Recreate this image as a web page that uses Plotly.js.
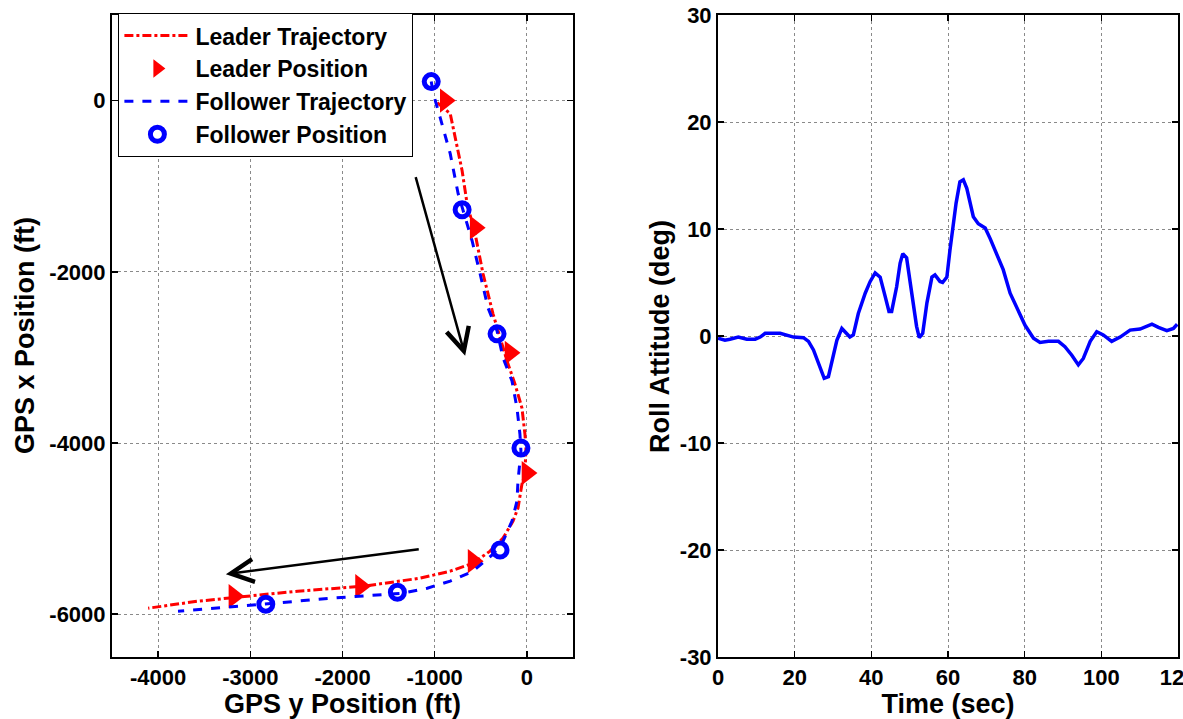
<!DOCTYPE html>
<html>
<head>
<meta charset="utf-8">
<script src="https://cdn.plot.ly/plotly-3.0.1.min.js"></script>
<style>html,body{margin:0;padding:0;background:#fff;}#chart{width:1183px;height:719px;}</style>
</head>
<body>
<div id="chart"></div>
<script>
// ---- Left panel: GPS trajectories (ft) ----
var leaderTrajY = [-973,-832,-703,-649,-562,-476,-368,-292,-216,-130,-54,-22,-11,-22,-54,-97,-151,-259,-400,-584,-832,-1157,-1373,-1773,-2486,-3027,-3568,-4108];
var leaderTrajX = [-23,-152,-819,-1205,-1556,-2023,-2491,-2772,-3041,-3310,-3591,-3895,-4058,-4363,-4480,-4760,-4912,-5111,-5263,-5404,-5497,-5579,-5614,-5673,-5731,-5789,-5848,-5930];

var leaderPosY = [-886,-562,-184,0,-584,-1805,-3178];
var leaderPosX = [0,-1485,-2947,-4351,-5380,-5673,-5789];

var followerTrajY = [-1038,-1016,-941,-832,-746,-692,-595,-508,-422,-324,-259,-162,-108,-76,-65,-97,-108,-162,-259,-368,-584,-832,-1081,-1341,-2130,-2854,-3395,-3784];
var followerTrajX = [222,82,-199,-620,-1088,-1287,-1637,-2023,-2421,-2690,-3006,-3275,-3591,-3895,-4094,-4444,-4678,-4912,-5146,-5298,-5497,-5614,-5696,-5754,-5813,-5883,-5930,-5965];

var followerPosY = [-1038,-703,-324,-65,-292,-1405,-2832];
var followerPosX = [222,-1275,-2725,-4058,-5251,-5743,-5883];

// direction arrows: [tailY, tailX, headY, headX]
var arrow1 = [-1211,-877,-670,-2982];
var arrow2 = [-1157,-5240,-3265,-5532];

// ---- Right panel: roll attitude ----
var timeSec = [0,1.8,3.1,5.3,7.5,9.7,11.0,12.3,16.2,17.9,19.7,22.3,23.6,24.9,26.2,27.7,28.8,30.1,31.0,32.3,33.6,34.4,35.3,36.6,38.4,39.7,41.0,42.3,43.6,44.6,45.3,46.6,47.5,48.2,49.2,50.5,51.8,52.5,53.4,54.5,55.8,56.6,57.9,58.6,59.7,60.5,61.2,62.1,63.1,64.0,64.9,65.7,66.6,67.9,69.7,71.0,72.7,74.4,76.2,78.4,80.1,82.3,84.0,86.2,88.8,90.5,92.3,94.0,95.3,97.1,98.8,100.5,102.7,104.9,107.5,110.1,113.2,114.9,117.1,118.8,119.8];
var rollDeg = [-0.2,-0.4,-0.3,-0.1,-0.3,-0.3,-0.1,0.25,0.25,0.1,-0.1,-0.16,-0.5,-1.3,-2.55,-3.95,-3.8,-1.9,-0.4,0.7,0.25,-0.1,0.1,2.1,4.0,5.1,5.9,5.5,3.7,2.3,2.3,4.6,6.8,7.7,7.3,4.3,0.9,-0.16,0.25,3.1,5.5,5.7,5.1,5.0,5.5,8.0,9.9,12.4,14.4,14.6,13.8,12.4,11.15,10.5,10.1,9.1,7.7,6.2,4.0,2.3,1.0,-0.2,-0.6,-0.5,-0.5,-1.0,-1.8,-2.7,-2.1,-0.5,0.4,0.1,-0.5,-0.1,0.55,0.65,1.1,0.8,0.5,0.7,1.1];

var xTicksLeft = [-4000,-3000,-2000,-1000,0];
var yTicksLeft = [-6000,-4000,-2000,0];
var xTicksRight = [0,20,40,60,80,100,120];
var yTicksRight = [-30,-20,-10,0,10,20,30];

var xTitleLeft = 'GPS y Position (ft)';
var yTitleLeft = 'GPS x Position (ft)';
var xTitleRight = 'Time (sec)';
var yTitleRight = 'Roll Attitude (deg)';

var FONT = 'Liberation Sans, Arial, sans-serif';

function bold(arr) { return arr.map(function (v) { return '<b>' + v + '</b>'; }); }

var traces = [
  {x: leaderTrajY, y: leaderTrajX, mode: 'lines', name: '<b>Leader Trajectory</b>',
   line: {color: '#ff0000', width: 3, dash: 'dashdot'}, xaxis: 'x', yaxis: 'y'},
  {x: leaderPosY, y: leaderPosX, mode: 'markers', name: '<b>Leader Position</b>',
   marker: {symbol: 'triangle-right', color: '#ff0000', size: 21}, xaxis: 'x', yaxis: 'y'},
  {x: followerTrajY, y: followerTrajX, mode: 'lines', name: '<b>Follower Trajectory</b>',
   line: {color: '#0000ff', width: 3, dash: 'dash'}, xaxis: 'x', yaxis: 'y'},
  {x: followerPosY, y: followerPosX, mode: 'markers', name: '<b>Follower Position</b>',
   marker: {symbol: 'circle-open', color: '#0000ff', size: 14, line: {width: 5, color: '#0000ff'}}, xaxis: 'x', yaxis: 'y'},
  {x: timeSec, y: rollDeg, mode: 'lines', name: 'Roll', showlegend: false,
   line: {color: '#0000ff', width: 3.5}, xaxis: 'x2', yaxis: 'y2'}
];

function axisBase(extra) {
  var a = {
    showline: true, linecolor: '#000', linewidth: 2, mirror: 'ticks',
    ticks: 'inside', ticklen: 6, tickwidth: 1.5, tickcolor: '#000',
    showgrid: true, gridcolor: '#8a8a8a', gridwidth: 1, griddash: 'dot',
    zeroline: false,
    tickfont: {family: FONT, size: 22, color: '#000', weight: 700},
    tickmode: 'array', ticklabeloverflow: 'allow'
  };
  for (var k in extra) a[k] = extra[k];
  return a;
}

var titleFont = {family: FONT, size: 27, color: '#000', weight: 700};

var layout = {
  width: 1183, height: 719,
  margin: {l: 112, r: 5, t: 15, b: 62},
  paper_bgcolor: '#fff', plot_bgcolor: '#fff',
  showlegend: true,
  legend: {x: 0.006, y: 1.003, xanchor: 'left', yanchor: 'top',
    bgcolor: '#fff', bordercolor: '#000', borderwidth: 1,
    font: {family: FONT, size: 23, color: '#000', weight: 700},
    itemwidth: 66, tracegroupgap: 0},
  xaxis: axisBase({domain: [0, 0.4325], range: [-4500, 500], tickvals: xTicksLeft,
    ticktext: bold(xTicksLeft), anchor: 'y',
    title: {text: '<b>' + xTitleLeft + '</b>', font: titleFont, standoff: 4}}),
  yaxis: axisBase({domain: [0, 1], range: [-6500, 1000], tickvals: yTicksLeft,
    ticktext: bold(yTicksLeft), anchor: 'x'}),
  xaxis2: axisBase({domain: [0.5685, 1.0], range: [0, 120], tickvals: xTicksRight,
    ticktext: bold(xTicksRight), anchor: 'y2',
    title: {text: '<b>' + xTitleRight + '</b>', font: titleFont, standoff: 4}}),
  yaxis2: axisBase({domain: [0, 1], range: [-30, 30], tickvals: yTicksRight,
    ticktext: bold(yTicksRight), anchor: 'x2'}),
  annotations: [
    {xref: 'paper', yref: 'paper', x: -0.0816, y: 0.5, xanchor: 'center', yanchor: 'middle',
     textangle: -90, showarrow: false, text: '<b>' + yTitleLeft + '</b>', font: titleFont},
    {xref: 'paper', yref: 'paper', x: 0.514, y: 0.5, xanchor: 'center', yanchor: 'middle',
     textangle: -90, showarrow: false, text: '<b>' + yTitleRight + '</b>', font: titleFont},
    {xref: 'x', yref: 'y', axref: 'x', ayref: 'y', x: arrow1[2], y: arrow1[3], ax: arrow1[0], ay: arrow1[1],
     showarrow: true, arrowhead: 5, arrowsize: 1.8, arrowwidth: 2.5, arrowcolor: '#000', text: ''},
    {xref: 'x', yref: 'y', axref: 'x', ayref: 'y', x: arrow2[2], y: arrow2[3], ax: arrow2[0], ay: arrow2[1],
     showarrow: true, arrowhead: 5, arrowsize: 1.8, arrowwidth: 2.5, arrowcolor: '#000', text: ''}
  ]
};

Plotly.newPlot('chart', traces, layout, {displayModeBar: false, staticPlot: true});
</script>
</body>
</html>
